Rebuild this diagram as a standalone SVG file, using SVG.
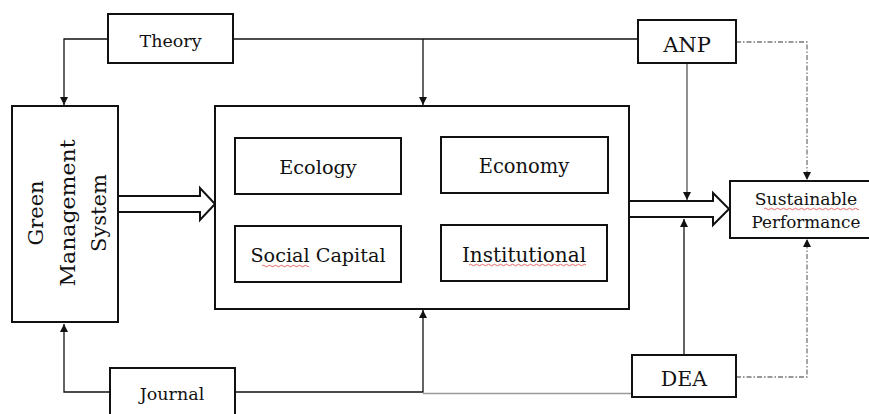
<svg xmlns="http://www.w3.org/2000/svg" width="869" height="414" viewBox="0 0 869 414">
  <style>
    .box { fill: #fff; stroke: #111; stroke-width: 2; }
    .lbl { font-family: "DejaVu Serif", "Liberation Serif", serif; fill: #111; text-anchor: middle; }
    .wire { fill: none; stroke: #111; stroke-width: 1.3; }
    .grey { fill: none; stroke: #555; stroke-width: 1.3; }
    .faint { fill: none; stroke: #999; stroke-width: 1.5; }
    .dash { fill: none; stroke: #777; stroke-width: 1.3; stroke-dasharray: 5 2 1.5 2; }
    .hollow { fill: #fff; stroke: #111; stroke-width: 2; stroke-linejoin: miter; }
    .squiggle { fill: none; stroke: #e04040; stroke-width: 0.8; }
  </style>
  <defs>
    <marker id="tip" viewBox="0 0 10 10" refX="10" refY="5" markerWidth="8" markerHeight="8" markerUnits="userSpaceOnUse" orient="auto">
      <path d="M0,0 L10,5 L0,10 Z" fill="#111"/>
    </marker>
  </defs>

  <rect width="869" height="414" fill="#fff"/>

  <!-- connectors -->
  <g id="connectors">
    <!-- Theory feeds the management system and the dimension panel -->
    <path class="wire" d="M108,39 H64 V105" marker-end="url(#tip)"/>
    <path class="wire" d="M233,39 H638"/>
    <path class="wire" d="M423,39 V105" marker-end="url(#tip)"/>
    <!-- Journal feeds the management system and the dimension panel -->
    <path class="wire" d="M110,392 H64 V324" marker-end="url(#tip)"/>
    <path class="wire" d="M235,392 H423 V310" marker-end="url(#tip)"/>
    <path class="faint" d="M423,393.5 H632"/>
    <!-- ANP and DEA into the output arrow -->
    <path class="grey" d="M687,63 V200" marker-end="url(#tip)"/>
    <path class="wire" d="M684,355 V219" marker-end="url(#tip)"/>
    <!-- dash-dot links to Sustainable Performance -->
    <path class="dash" d="M736,42 H807 V180" marker-end="url(#tip)"/>
    <path class="dash" d="M736,377 H807 V239" marker-end="url(#tip)"/>
    <!-- block arrows -->
    <polygon class="hollow" points="118,196 200,196 200,188 215,204 200,220 200,212 118,212"/>
    <polygon class="hollow" points="629,201 713,201 713,193 729,209 713,225 713,217 629,217"/>
  </g>

  <g id="theory">
    <rect class="box" x="108" y="14" width="125" height="49"/>
    <text class="lbl" x="170.5" y="47" font-size="17.5">Theory</text>
  </g>

  <g id="journal">
    <rect class="box" x="110" y="368" width="125" height="52"/>
    <text class="lbl" x="172" y="400" font-size="17.5">Journal</text>
  </g>

  <g id="green-management-system">
    <rect class="box" x="12" y="106" width="106" height="216"/>
    <g transform="translate(0,213) rotate(-90)">
      <text class="lbl" x="0" y="43" font-size="21">Green</text>
      <text class="lbl" x="0" y="75" font-size="21" textLength="147" lengthAdjust="spacingAndGlyphs">Management</text>
      <text class="lbl" x="0" y="106" font-size="21">System</text>
    </g>
  </g>

  <g id="dimensions">
    <rect class="box" x="215" y="106" width="414" height="203"/>
  </g>

  <g id="ecology">
    <rect class="box" x="235" y="138" width="166" height="56"/>
    <text class="lbl" x="318" y="174" font-size="19.3">Ecology</text>
  </g>

  <g id="economy">
    <rect class="box" x="441" y="137" width="167" height="56"/>
    <text class="lbl" x="524" y="173" font-size="19.5">Economy</text>
  </g>

  <g id="social-capital">
    <rect class="box" x="235" y="226" width="166" height="56"/>
    <text class="lbl" x="318" y="262" font-size="19.2">Social Capital</text>
    <path class="squiggle" d="M262,266 q1.5,-1.5 3,0 t3,0 t3,0 t3,0 t3,0 t3,0 t3,0 t3,0 t3,0 t3,0 t3,0 t3,0 t3,0 t3,0 t3,0 t2,0"/>
  </g>

  <g id="institutional">
    <rect class="box" x="441" y="225" width="166" height="56"/>
    <text class="lbl" x="524" y="262" font-size="20">Institutional</text>
    <path class="squiggle" d="M469,265 q1.5,-1.5 3,0 t3,0 t3,0 t3,0 t3,0 t3,0 t3,0 t3,0 t3,0 t3,0 t3,0 t3,0 t3,0 t3,0 t3,0 t3,0 t3,0 t3,0 t3,0 t3,0 t3,0 t3,0 t3,0 t3,0 t3,0 t3,0 t3,0 t3,0 t3,0 t3,0 t3,0 t3,0 t3,0 t3,0 t3,0 t3,0 t3,0 t3,0 t3,0"/>
  </g>

  <g id="anp">
    <rect class="box" x="638" y="20" width="98" height="43"/>
    <text class="lbl" x="687" y="52" font-size="21">ANP</text>
  </g>

  <g id="dea">
    <rect class="box" x="632" y="355" width="104" height="42"/>
    <text class="lbl" x="684" y="386" font-size="20.6">DEA</text>
  </g>

  <g id="sustainable-performance">
    <rect class="box" x="730" y="181" width="145" height="57"/>
    <text class="lbl" x="806" y="205" font-size="17.2">Sustainable</text>
    <text class="lbl" x="806" y="228" font-size="16.8">Performance</text>
    <path class="squiggle" d="M764,209 q1.5,-1.5 3,0 t3,0 t3,0 t3,0 t3,0 t3,0 t3,0 t3,0 t3,0 t3,0 t3,0 t3,0 t3,0 t3,0 t3,0 t3,0 t3,0 t3,0 t3,0 t3,0 t3,0 t3,0 t3,0 t3,0 t3,0 t3,0 t3,0 t3,0 t3,0 t3,0 t3,0 t2,0"/>
  </g>
</svg>
